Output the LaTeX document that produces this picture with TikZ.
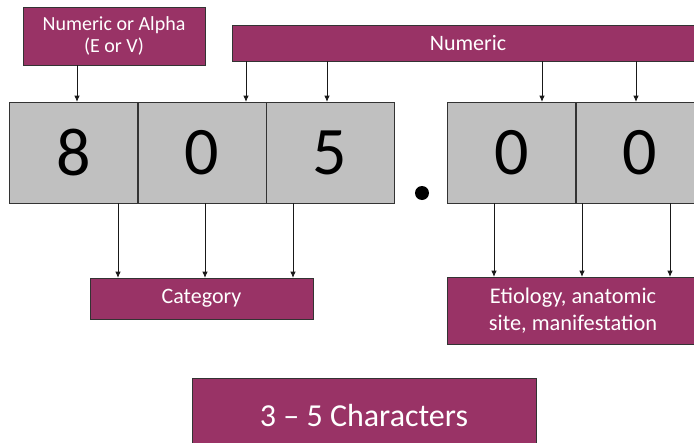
\documentclass[tikz,border=0pt]{standalone}
\usepackage{fontspec}
\setmainfont{Carlito}
\usetikzlibrary{arrows.meta}
\definecolor{plum}{RGB}{153,51,102}
\definecolor{cellgray}{RGB}{192,192,192}
\tikzset{
    tag/.style={draw=black!80, fill=plum, text=white, align=center, inner sep=0pt},
    digit/.style={draw=black!80, fill=cellgray, minimum width=96pt, minimum height=75.75pt,
        inner sep=0pt, font=\fontsize{51}{55}\selectfont},
    link/.style={-{Latex[length=4.5pt,width=4pt]}, black!90, line width=0.5pt}
}

\begin{document}
\begin{tikzpicture}[x=0.75pt, y=-0.75pt]
        \useasboundingbox (0,0) rectangle (694,443);
        \clip (0,0) rectangle (694,443);
        % Code cells
        \node[digit] (d1) at (73.5,152.5) {8};
        \node[digit] (d2) at (202,152.5) {0};
        \node[digit] (d3) at (330,152.5) {5};
        \node[digit] (d4) at (511.5,152.5) {0};
        \node[digit] (d5) at (640,152.5) {0};
        \node[circle, fill=black, inner sep=0pt, minimum size=10.5pt] (dot) at (422,193) {};
        % Top labels
        \node[tag, minimum width=136.5pt, minimum height=43.5pt,
              font=\fontsize{15}{16.5}\selectfont] (alpha) at (114,36) {Numeric or Alpha\\(E or V)};
        \node[tag, minimum width=354pt, minimum height=27pt,
              font=\fontsize{16.5}{18}\selectfont] (num) at (468,43) {Numeric};
        % Bottom labels
        \node[tag, minimum width=167.25pt, minimum height=30.75pt,
              font=\fontsize{16.5}{19}\selectfont] (cat) at (201.5,298.5) {Category};
        \node[tag, minimum width=189pt, minimum height=50.25pt,
              font=\fontsize{16.8}{20}\selectfont] (etio) at (573,310.5) {Etiology, anatomic\\site, manifestation};
        \node[tag, minimum width=258pt, minimum height=57pt,
              font=\fontsize{24}{28}\selectfont] (chars) at (364,416) {3 -- 5 Characters};
        % Arrows into the cells
        \draw[link] (alpha.south -| 77,0) -- (d1.north -| 77,0);
        \foreach \x/\d in {246/d2, 327/d3, 542/d4, 636/d5}
            \draw[link] (num.south -| \x,0) -- (\d.north -| \x,0);
        % Arrows out of the cells
        \foreach \x/\d in {118/d1, 205/d2, 293/d3}
            \draw[link] (\d.south -| \x,0) -- (cat.north -| \x,0);
        \foreach \x/\d in {494/d4, 582/d5, 670/d5}
            \draw[link] (\d.south -| \x,0) -- (etio.north -| \x,0);
    \end{tikzpicture}
\end{document}
